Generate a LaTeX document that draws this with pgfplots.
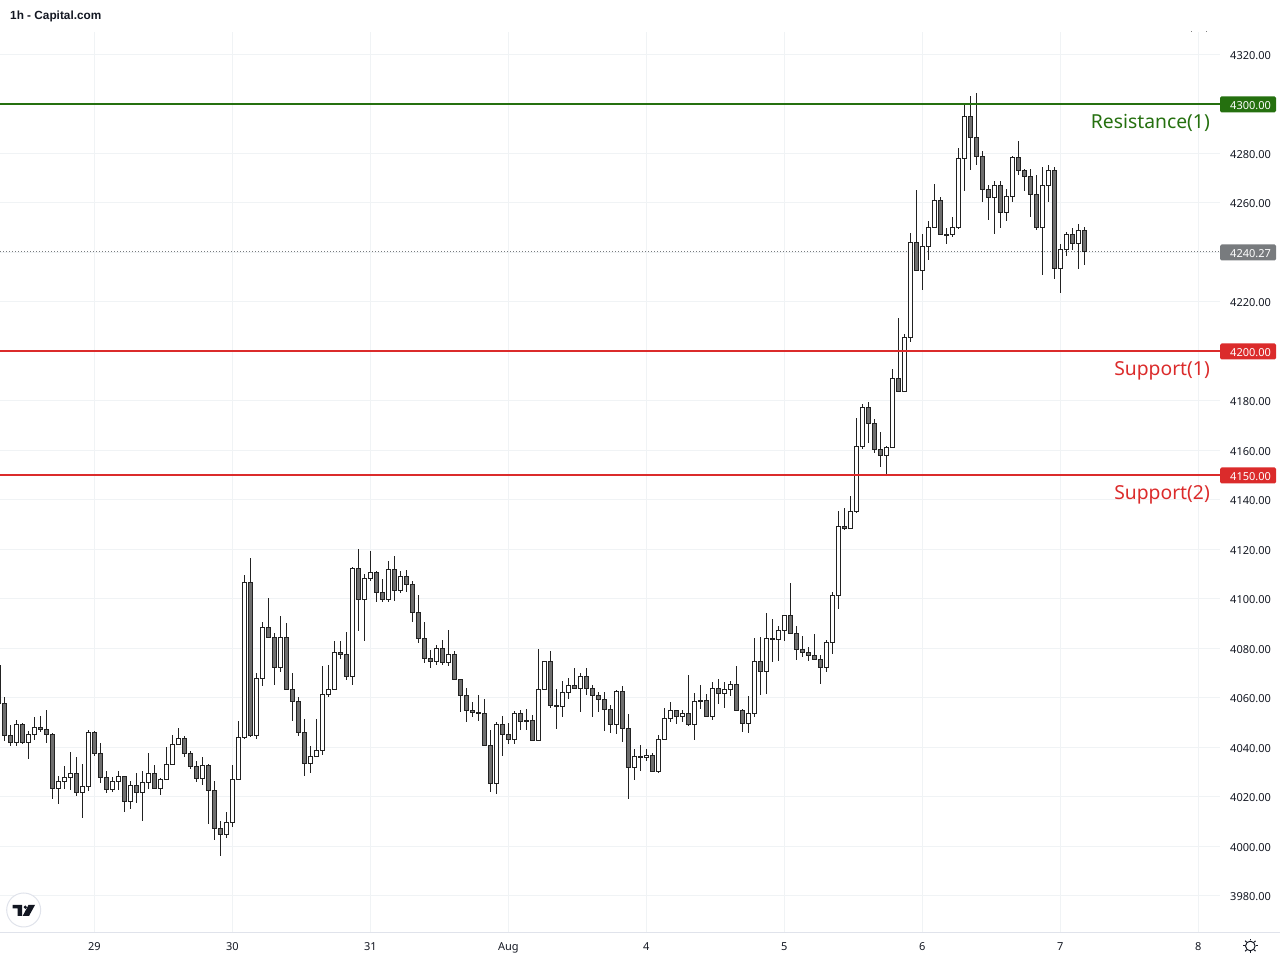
\documentclass[border=0pt]{standalone}
\usepackage{fontspec}
\setmainfont{Noto Sans}
\newfontfamily\arialfont{Liberation Sans}
\usepackage{pgfplots}
\usepackage{pgfplotstable}
\usetikzlibrary{calc}
\pgfplotsset{compat=1.18}
\definecolor{gridc}{HTML}{F0F3F5}
\definecolor{wickc}{HTML}{222222}
\definecolor{downc}{HTML}{6E6E6E}
\definecolor{resc}{HTML}{25700F}
\definecolor{supc}{HTML}{DB2B2B}
\definecolor{lastc}{HTML}{787B7E}
\definecolor{axisc}{HTML}{E0E3EB}
\definecolor{txtc}{HTML}{131722}
\pgfplotstableread{
k o h l c
-1 4073.3 4073.3 4057.8 4057.8
0 4057.8 4060.3 4042.8 4044.9
1 4044.9 4049.0 4040.7 4042.1
2 4042.1 4051.0 4040.7 4049.4
3 4049.4 4049.9 4041.5 4042.1
4 4042.1 4046.5 4035.2 4045.3
5 4045.3 4052.2 4043.2 4048.1
6 4048.1 4052.6 4046.4 4047.3
7 4047.3 4055.0 4042.0 4045.3
8 4045.3 4045.7 4019.3 4023.5
9 4023.5 4028.4 4017.3 4026.3
10 4026.3 4032.4 4023.4 4027.9
11 4027.9 4038.0 4023.0 4029.6
12 4029.6 4036.0 4020.5 4021.9
13 4021.9 4033.2 4011.7 4024.3
14 4024.3 4046.9 4022.6 4046.1
15 4046.1 4046.7 4036.7 4037.6
16 4037.6 4041.7 4025.8 4027.9
17 4027.9 4030.4 4021.8 4023.1
18 4023.1 4028.1 4022.2 4026.3
19 4026.3 4030.4 4023.0 4028.4
20 4028.4 4028.4 4014.1 4018.3
21 4018.3 4026.3 4015.3 4024.7
22 4024.7 4029.6 4017.7 4021.9
23 4021.9 4030.4 4010.4 4025.9
24 4025.9 4037.6 4023.4 4029.6
25 4029.6 4032.8 4023.4 4023.5
26 4023.5 4027.7 4020.9 4027.1
27 4027.1 4040.1 4027.1 4033.2
28 4033.2 4044.9 4033.2 4041.3
29 4041.3 4047.7 4041.3 4043.7
30 4043.7 4044.5 4036.0 4037.6
31 4037.6 4038.5 4031.4 4032.4
32 4032.4 4034.4 4026.2 4027.5
33 4027.5 4036.0 4025.0 4032.8
34 4032.8 4033.2 4009.2 4022.7
35 4022.7 4026.3 4002.8 4007.3
36 4007.3 4010.2 3996.3 4004.9
37 4004.9 4013.8 4003.6 4009.8
38 4009.8 4032.8 4008.0 4027.1
39 4027.1 4050.6 4027.1 4044.1
40 4044.1 4109.6 4043.3 4106.7
41 4106.7 4116.4 4044.4 4044.9
42 4044.9 4070.0 4043.3 4068.0
43 4068.0 4090.6 4065.0 4088.6
44 4088.6 4100.3 4084.5 4084.5
45 4084.5 4086.4 4065.4 4072.4
46 4072.4 4093.0 4070.6 4084.5
47 4084.5 4090.2 4063.5 4063.5
48 4063.5 4070.0 4050.8 4058.7
49 4058.7 4060.3 4044.8 4046.1
50 4046.1 4051.4 4028.6 4033.6
51 4033.6 4040.5 4029.8 4036.4
52 4036.4 4051.4 4036.0 4038.9
53 4038.9 4072.8 4037.1 4061.5
54 4061.5 4073.2 4060.5 4063.5
55 4063.5 4082.9 4063.5 4078.5
56 4078.5 4082.9 4075.9 4077.6
57 4077.6 4086.5 4067.4 4068.8
58 4068.8 4112.8 4065.4 4112.4
59 4112.4 4120.1 4087.2 4099.9
60 4099.9 4110.0 4083.2 4108.4
61 4108.4 4119.3 4107.1 4110.8
62 4110.8 4111.2 4098.9 4102.7
63 4102.7 4108.0 4098.9 4099.9
64 4099.9 4115.2 4098.9 4112.0
65 4112.0 4117.2 4099.3 4103.5
66 4103.5 4111.2 4102.3 4109.2
67 4109.2 4111.6 4102.7 4105.9
68 4105.9 4107.1 4090.8 4094.6
69 4094.6 4101.5 4082.4 4084.1
70 4084.1 4090.6 4074.3 4076.0
71 4076.0 4079.3 4072.3 4074.8
72 4074.8 4081.3 4073.5 4080.1
73 4080.1 4083.3 4073.5 4074.4
74 4074.4 4087.3 4073.1 4077.6
75 4077.6 4078.9 4067.5 4067.5
76 4067.5 4067.5 4054.5 4061.1
77 4061.1 4063.9 4050.4 4055.0
78 4055.0 4058.2 4052.5 4054.2
79 4054.2 4061.1 4050.8 4053.8
80 4053.8 4059.5 4040.9 4040.9
81 4040.9 4046.9 4022.2 4025.5
82 4025.5 4050.2 4021.3 4049.4
83 4049.4 4052.6 4036.7 4045.3
84 4045.3 4049.8 4041.5 4043.3
85 4043.3 4054.6 4041.5 4053.8
86 4053.8 4055.0 4047.2 4050.6
87 4051.0 4055.4 4047.2 4050.6
88 4051.0 4053.0 4042.9 4042.9
89 4042.9 4079.7 4042.9 4063.5
90 4063.5 4074.8 4063.5 4074.8
91 4074.8 4078.9 4056.1 4057.0
92 4057.0 4063.5 4047.6 4056.6
93 4056.6 4066.7 4052.5 4062.3
94 4062.3 4067.9 4059.7 4065.1
95 4065.1 4072.0 4063.9 4063.9
96 4063.9 4070.0 4054.5 4068.8
97 4068.8 4072.0 4061.1 4063.9
98 4063.9 4065.1 4052.5 4061.1
99 4061.1 4062.3 4054.5 4059.5
100 4059.5 4062.3 4046.8 4055.4
101 4055.4 4057.0 4046.0 4049.4
102 4049.4 4063.1 4045.6 4062.7
103 4062.7 4064.7 4042.4 4047.7
104 4047.7 4053.4 4019.3 4032.0
105 4032.0 4039.3 4027.0 4036.4
106 4036.4 4040.9 4030.6 4036.0
107 4036.0 4039.3 4034.7 4036.8
108 4036.8 4037.6 4030.4 4030.4
109 4030.4 4044.9 4029.8 4043.3
110 4043.3 4055.8 4043.3 4051.8
111 4051.8 4058.2 4050.4 4055.0
112 4055.0 4055.0 4049.6 4052.6
113 4052.6 4055.0 4050.4 4053.8
114 4053.8 4069.2 4048.8 4049.4
115 4049.4 4061.9 4043.0 4058.7
116 4059.1 4065.1 4055.7 4058.7
117 4059.1 4061.5 4052.6 4052.6
118 4052.6 4066.3 4051.3 4063.9
119 4063.9 4067.5 4057.6 4061.9
120 4061.9 4066.3 4056.1 4063.5
121 4063.5 4066.7 4061.0 4065.5
122 4065.5 4072.8 4055.0 4055.0
123 4055.0 4055.4 4046.4 4049.8
124 4049.8 4060.7 4046.0 4053.8
125 4053.8 4084.1 4052.5 4074.8
126 4074.8 4084.5 4061.4 4070.8
127 4070.8 4094.2 4061.8 4084.1
128 4084.1 4091.8 4074.7 4083.7
129 4083.7 4089.0 4075.1 4087.3
130 4087.3 4093.4 4083.2 4093.4
131 4093.4 4106.3 4086.1 4086.1
132 4086.1 4089.0 4075.5 4079.7
133 4079.7 4084.9 4076.7 4078.5
134 4078.5 4080.5 4075.1 4077.2
135 4077.2 4085.7 4075.6 4075.6
136 4075.6 4077.2 4065.8 4072.4
137 4072.4 4083.3 4070.6 4082.5
138 4082.5 4102.7 4077.9 4101.5
139 4101.5 4135.4 4095.8 4129.4
140 4129.4 4136.6 4127.9 4128.6
141 4128.6 4141.5 4128.6 4135.4
142 4135.4 4173.0 4134.9 4161.7
143 4161.7 4178.7 4160.7 4177.4
144 4177.4 4179.5 4162.9 4171.0
145 4171.0 4172.6 4159.1 4160.5
146 4160.5 4167.3 4153.5 4158.1
147 4158.1 4161.7 4150.4 4161.3
148 4161.3 4192.8 4161.3 4189.2
149 4189.2 4213.4 4183.5 4183.9
150 4183.9 4206.9 4183.9 4205.7
151 4205.7 4247.7 4204.0 4244.1
152 4244.1 4265.1 4232.8 4232.8
153 4232.8 4247.3 4224.9 4242.5
154 4242.5 4252.6 4237.1 4250.2
155 4250.2 4267.6 4249.8 4261.1
156 4261.1 4262.3 4246.9 4247.3
157 4247.3 4249.8 4243.6 4247.1
158 4247.3 4254.2 4246.1 4250.2
159 4250.2 4282.1 4249.4 4278.0
160 4278.0 4300.3 4265.0 4295.0
161 4295.0 4303.1 4273.5 4286.5
162 4286.5 4304.3 4275.5 4278.9
163 4278.9 4280.9 4260.5 4265.5
164 4265.5 4267.1 4253.3 4262.3
165 4262.3 4268.8 4247.6 4267.1
166 4267.1 4268.8 4250.0 4256.2
167 4256.2 4265.5 4252.9 4262.7
168 4262.7 4278.9 4260.5 4278.5
169 4278.5 4284.9 4271.5 4273.2
170 4273.2 4273.6 4265.0 4270.8
171 4270.8 4273.6 4254.5 4263.5
172 4263.5 4271.2 4249.2 4250.2
173 4250.2 4274.4 4231.0 4267.1
174 4267.1 4275.2 4260.5 4273.2
175 4273.2 4274.4 4229.4 4233.6
176 4233.6 4243.3 4223.8 4241.3
177 4241.3 4248.2 4238.7 4247.3
178 4247.3 4249.8 4241.2 4243.7
179 4243.7 4251.4 4233.5 4249.0
180 4249.0 4250.2 4235.1 4240.27
}\candles
\pgfplotsset{
  bars/.style 2 args={draw=none, mark=none, forget plot,
    error bars/y dir=both, error bars/y explicit, error bars/error mark=none,
    error bars/error bar style={line width=#1, color=#2, solid}},
}
\begin{document}
\begin{tikzpicture}
\path[use as bounding box] (0,0) rectangle (1280pt,960pt);
\begin{axis}[
  at={(0pt,28pt)}, anchor=south west,
  scale only axis, width=1220pt, height=900pt,
  xmin=-0.7222, xmax=202.611,
  ymin=3965.455, ymax=4329.09,
  axis line style={draw=none},
  major tick length=0pt,
  tick style={draw=none},
  xtick={15,38,61,84,107,130,153,176,199},
  xticklabels={29,30,31,\textbf{Aug},4,5,6,7,8},
  ytick={3980,4000,...,4320},
  ytick pos=right,
  yticklabel pos=right,
  grid=major,
  grid style={draw=gridc, line width=1pt},
  tick label style={font=\fontsize{11}{13}\selectfont, text=txtc},
  yticklabel style={anchor=west, inner xsep=0pt, xshift=10pt, yshift=-0.8pt,
    /pgf/number format/.cd, fixed, fixed zerofill, precision=2, 1000 sep={}, assume math mode=true},
  xticklabel style={anchor=north, yshift=-7pt},
  clip=true,
]
% last price dotted line
\addplot[lastc, line width=1pt, dash pattern=on 1pt off 2pt, forget plot] coordinates {(-0.7222,4240.27) (202.611,4240.27)};
% wicks
\addplot[bars={1pt}{wickc}] table[x=k, y=c, y error plus expr=\thisrow{h}-\thisrow{c}, y error minus expr=\thisrow{c}-\thisrow{l}] {\candles};
% body outlines
\addplot[bars={5pt}{wickc}] table[x=k, y expr=(\thisrow{o}+\thisrow{c})/2,
  y error plus expr={abs(\thisrow{o}-\thisrow{c})/2+0.2},
  y error minus expr={abs(\thisrow{o}-\thisrow{c})/2+0.2}] {\candles};
% up bodies
\addplot[bars={3pt}{white}, x filter/.expression={\thisrow{c}>\thisrow{o} ? x : nan}] table[x=k, y expr=(\thisrow{o}+\thisrow{c})/2,
  y error plus expr={max(0,abs(\thisrow{o}-\thisrow{c})/2-0.2)},
  y error minus expr={max(0,abs(\thisrow{o}-\thisrow{c})/2-0.2)}] {\candles};
% down bodies
\addplot[bars={3pt}{downc}, x filter/.expression={\thisrow{c}<\thisrow{o} ? x : nan}] table[x=k, y expr=(\thisrow{o}+\thisrow{c})/2,
  y error plus expr={max(0,abs(\thisrow{o}-\thisrow{c})/2-0.2)},
  y error minus expr={max(0,abs(\thisrow{o}-\thisrow{c})/2-0.2)}] {\candles};
% levels
\addplot[resc, line width=2pt, forget plot] coordinates {(-0.7222,4300) (202.611,4300)};
\addplot[supc, line width=2pt, forget plot] coordinates {(-0.7222,4200) (202.611,4200)};
\addplot[supc, line width=2pt, forget plot] coordinates {(-0.7222,4150) (202.611,4150)};
\end{axis}
\begin{scope}[x=1pt, y=-1pt, shift={(0pt,960pt)}]
  \draw[axisc, line width=1pt] (0,932.5) -- (1280,932.5);
  % title
  \node[anchor=west, inner sep=0pt, font=\arialfont\bfseries\fontsize{11.8}{14}\selectfont, text=txtc] at (10,16.5) {1h - Capital.com};
  % level captions
  \node[anchor=east, inner sep=0pt, font=\fontsize{19.3}{23}\selectfont, text=resc] at (1210,123) {Resistance(1)};
  \node[anchor=east, inner sep=0pt, font=\fontsize{19.3}{23}\selectfont, text=supc] at (1210,370.5) {Support(1)};
  \node[anchor=east, inner sep=0pt, font=\fontsize{19.3}{23}\selectfont, text=supc] at (1210,494.5) {Support(2)};
  % price tags
  \foreach \yy/\cc/\lab in {104.5/resc/4300.00, 351.5/supc/4200.00, 475.5/supc/4150.00, 252.5/lastc/4240.27}{
    \fill[\cc, rounded corners=1.5pt] (1220,\yy-8) -- (1276,\yy-8) -- (1276,\yy+8) -- (1220,\yy+8) -- cycle;
    \node[anchor=west, inner sep=0pt, text=white, font=\fontsize{11}{13}\selectfont] at (1230,\yy+0.8) {\lab};
  }
  % logo
  \draw[axisc, fill=white, line width=1pt] (23.7,910) circle (17);
  \fill[txtc] (12.7,905) -- (22,905) -- (22,916) -- (17.5,916) -- (17.5,908.5) -- (12.7,908.5) -- cycle;
  \fill[txtc] (25.3,907.2) circle (1.8);
  \fill[txtc] (28.5,905) -- (35,905) -- (29,916) -- (22.7,916) -- cycle;
  % settings icon
  \draw[txtc, line width=1pt] (1250.3,946) circle (4.8);
  \foreach \a in {0,45,...,315}{
    \draw[txtc, line width=1pt] ($(1250.3,946)+(\a:5.5)$) -- ($(1250.3,946)+(\a:7.3)$);
  }
  % cropped marks at the top
  \fill[gray] (1191,31) rectangle (1192,32.5);
  \fill[gray] (1205.5,31) rectangle (1206.5,32.5);
\end{scope}
\end{tikzpicture}
\end{document}
